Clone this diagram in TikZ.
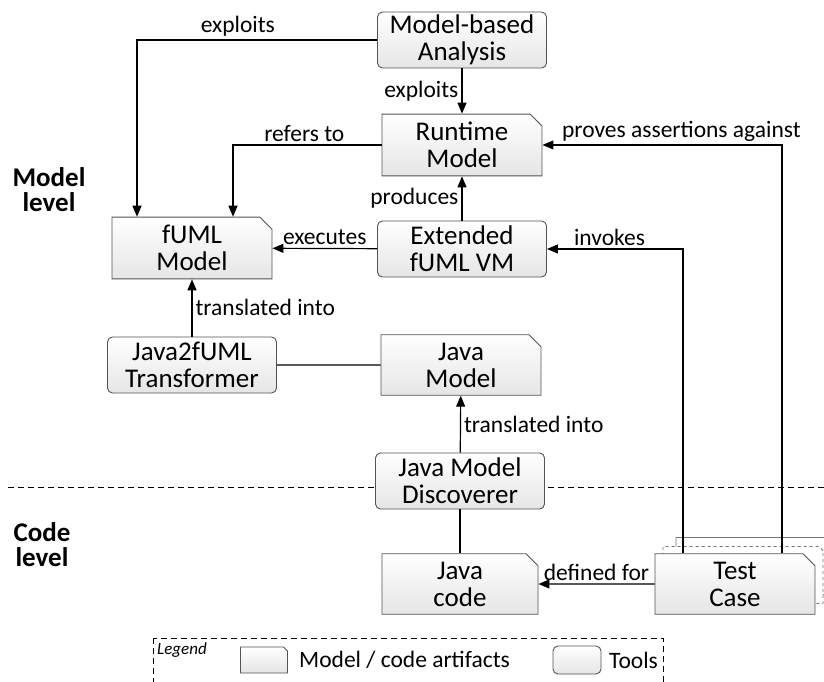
\documentclass[tikz,border=0pt]{standalone}
\usepackage{fontspec}
\setmainfont{Carlito}
\usetikzlibrary{arrows.meta,shapes.misc}
\tikzset{
  box/.style={draw=gray!65!black, line width=0.9pt, top color=white, bottom color=gray!20,
    align=center, font=\fontsize{27}{27}\selectfont, inner sep=2pt},
  tool/.style={box, rounded corners=5pt, minimum width=169pt, minimum height=56pt},
  artifact/.style={box, chamfered rectangle, chamfered rectangle corners=north east,
    chamfered rectangle sep=6pt, minimum width=160pt, minimum height=57pt},
  link/.style={line width=1.2pt, -{Triangle[length=11pt,width=9pt]}},
  plain/.style={line width=1.2pt},
  lbl/.style={font=\fontsize{23.5}{24}\selectfont, inner sep=3pt},
  level/.style={font=\bfseries\fontsize{27}{25}\selectfont, align=center},
  sepline/.style={line width=1pt, dash pattern=on 6pt off 4pt}
}
\begin{document}
\begin{tikzpicture}[x=1pt,y=-1pt]
\useasboundingbox (0,0) rectangle (824,682);
% model level / code level border
\draw[sepline] (8,487) -- (824,487);
\node[level] (ml) at (49,190) {Model\\level};
\node[level] (cl) at (42,545) {Code\\level};
% tools and artifacts
\node[tool] (mba) at (462,40) {Model-based\\Analysis};
\node[artifact] (rtm) at (462,145) {Runtime\\Model};
\node[artifact] (fuml) at (192,248) {fUML\\Model};
\node[tool] (vm) at (462,249) {Extended\\fUML VM};
\node[tool] (j2f) at (192,365) {Java2fUML\\Transformer};
\node[artifact] (jm) at (461,365) {Java\\Model};
\node[tool] (jmd) at (460,481) {Java Model\\Discoverer};
\node[artifact, minimum width=156pt] (jc) at (460,584) {Java\\code};
\foreach \dx/\dy/\ls in {21/-18/solid,8/-9/dashed} {
  \node[artifact, draw=gray!90!black, \ls, top color=white, bottom color=white] (tc\dx) at (735+\dx,584+\dy) {};
}
\node[artifact, minimum height=56pt] (tc) at (735,584) {Test\\Case};
% connectors
\draw[link] (mba.west) -| node[lbl,above,pos=0.29] {exploits} ([xshift=-55pt]fuml.north);
\draw[link] (mba) -- node[lbl,left] {exploits} (rtm);
\draw[link] (rtm.west) -| node[lbl,above,pos=0.26] {refers to} ([xshift=41pt]fuml.north);
\draw[link] (vm) -- node[lbl,left] {produces} (rtm);
\draw[link] (vm) -- node[lbl,above] {executes} (fuml);
\draw[link] (j2f) -- node[lbl,right] {translated into} (fuml);
\draw[plain] (j2f) -- (jm);
\draw[link] (jmd) -- node[lbl,right] {translated into} (jm);
\draw[plain] (jmd) -- (jc);
\draw[link] (tc) -- node[lbl,above] {defined for} (jc);
\draw[link] ([xshift=-52pt]tc.north) |- node[lbl,above,pos=0.77] {invokes} (vm);
\draw[link] ([xshift=47pt]tc.north) |- node[lbl,above,pos=0.71] {proves assertions against} (rtm);
% legend
\draw[sepline] (153,638) rectangle (663,700);
\node[font=\itshape\fontsize{17}{17}\selectfont, anchor=north west, inner sep=0pt] (lgd) at (157,642) {Legend};
\node[artifact, minimum width=47pt, minimum height=26pt, chamfered rectangle sep=5pt] (lga) at (264,660) {};
\node[lbl, anchor=west] (lgat) at (296,660) {Model / code artifacts};
\node[tool, minimum width=48pt, minimum height=28pt] (lgt) at (577,660) {};
\node[lbl, anchor=west] (lgtt) at (606,660) {Tools};
\end{tikzpicture}
\end{document}
